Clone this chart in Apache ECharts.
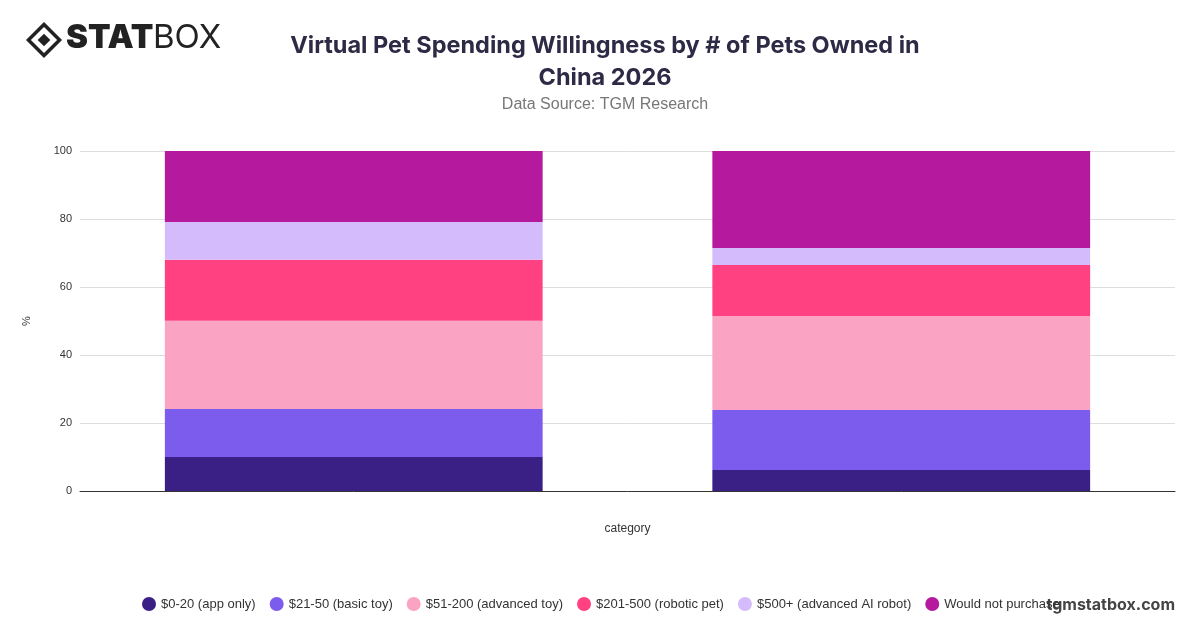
<!DOCTYPE html>
<html><head><meta charset="utf-8">
<script src="https://cdn.jsdelivr.net/npm/echarts@6/dist/echarts.min.js"></script>
<style>body{margin:0;background:#fff}#c{width:1200px;height:628px}</style>
</head><body><div id="c"></div>
<script>
const categories = ["1 pet", "2+ pets"];
const seriesNames = ["$0-20 (app only)", "$21-50 (basic toy)", "$51-200 (advanced toy)", "$201-500 (robotic pet)", "$500+ (advanced AI robot)", "Would not purchase"];
const v0_20 = [10, 6.2];
const v21_50 = [14.1, 17.6];
const v51_200 = [26, 27.7];
const v201_500 = [17.9, 15];
const v500 = [11.1, 5];
const vNot = [20.9, 28.5];
const colors = ["#3a1f85", "#7c5cec", "#fba3c2", "#ff4081", "#d4bbfb", "#b5199d"];
const values = [v0_20, v21_50, v51_200, v201_500, v500, vNot];
const chart = echarts.init(document.getElementById('c'));
chart.setOption({
  animation: false,
  color: colors,
  title: [
    {text: "Virtual Pet Spending Willingness by # of Pets Owned in\nChina 2026", left: 600, top: 25, textAlign: 'center',
     textStyle: {fontFamily: 'Inter', fontSize: 23.5, fontWeight: 'bold', color: '#2d2a45', lineHeight: 32}},
    {text: "Data Source: TGM Research", left: 600, top: 92, textAlign: 'center',
     textStyle: {fontFamily: 'Liberation Sans', fontSize: 16, fontWeight: 'normal', color: '#777'}}
  ],
  graphic: [
    {type: 'rect', shape: {x: -11, y: -11, width: 22, height: 22}, x: 44, y: 40, rotation: Math.PI/4,
     style: {fill: 'none', stroke: '#222', lineWidth: 3.5}},
    {type: 'rect', shape: {x: -4.5, y: -4.5, width: 9, height: 9}, x: 44, y: 40, rotation: Math.PI/4, style: {fill: '#222'}},
    {type: 'text', x: 66, y: 22, style: {text: 'STAT', font: '900 33px Inter', fill: '#222'}},
    {type: 'text', x: 153, y: 22, style: {text: 'BOX', font: '33px Inter', fill: '#222'}},
    {type: 'text', right: 25, top: 597, style: {text: 'tgmstatbox.com', font: 'bold 16px Inter', fill: '#444'}}
  ],
  legend: {bottom: 12, left: 137, itemWidth: 14, itemHeight: 14, icon: 'circle', itemGap: 14,
    textStyle: {fontFamily: 'Liberation Sans', fontSize: 13, color: '#333'}},
  grid: {left: 80, right: 25, top: 151, bottom: 137},
  xAxis: {type: 'category', data: categories, name: 'category', nameLocation: 'middle', nameGap: 32,
    nameTextStyle: {fontFamily: 'Liberation Sans', fontSize: 12, color: '#333'},
    axisLabel: {show: false}, axisTick: {show: false}, axisLine: {lineStyle: {color: '#333'}}},
  yAxis: {type: 'value', min: 0, max: 100, interval: 20, name: '%', nameLocation: 'middle', nameGap: 48,
    nameTextStyle: {fontFamily: 'Liberation Sans', fontSize: 11, color: '#333'},
    axisLabel: {fontFamily: 'Liberation Sans', fontSize: 11, color: '#333'},
    splitLine: {lineStyle: {color: '#ddd'}}},
  series: seriesNames.map((n, i) => ({name: n, type: 'bar', stack: 'a', data: values[i], barWidth: '69%'}))
});
</script></body></html>
